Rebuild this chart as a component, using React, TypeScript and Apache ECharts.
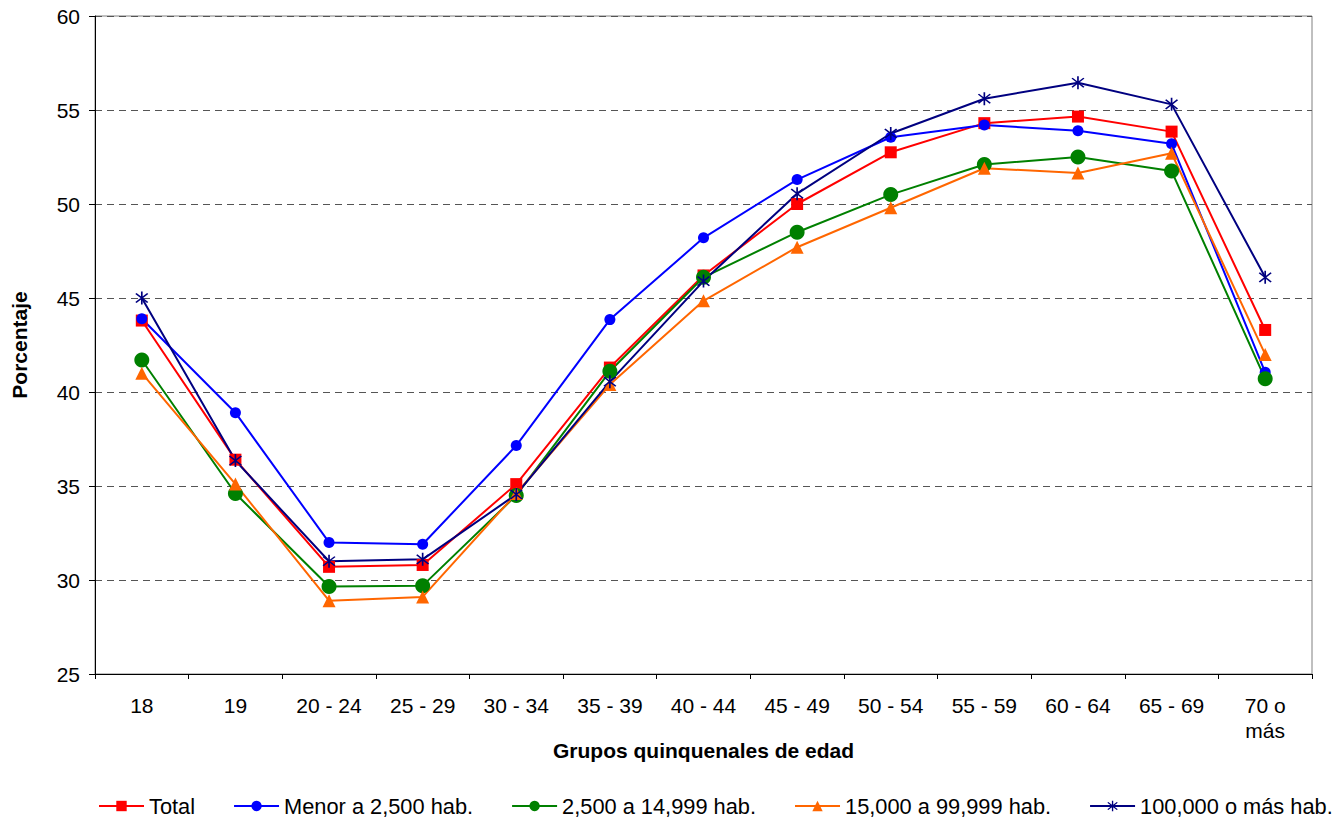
import React, { useEffect, useRef } from "react";
import * as echarts from "echarts";

const categories = ["18", "19", "20 - 24", "25 - 29", "30 - 34", "35 - 39", "40 - 44", "45 - 49", "50 - 54", "55 - 59", "60 - 64", "65 - 69", "70 o\nmás"];

const total = [43.8, 36.4, 30.7, 30.8, 35.1, 41.3, 46.2, 50.0, 52.75, 54.3, 54.65, 53.85, 43.3];
const menor2500 = [43.9, 38.9, 32.0, 31.9, 37.15, 43.85, 48.2, 51.3, 53.55, 54.2, 53.9, 53.2, 41.05];
const de2500a14999 = [41.7, 34.6, 29.65, 29.7, 34.5, 41.1, 46.1, 48.5, 50.5, 52.1, 52.5, 51.75, 40.7];
const de15000a99999 = [41.0, 35.1, 28.9, 29.1, 34.6, 40.4, 44.85, 47.7, 49.8, 51.9, 51.65, 52.7, 42.0];
const de100000 = [45.0, 36.35, 31.0, 31.1, 34.55, 40.55, 45.9, 50.55, 53.75, 55.6, 56.45, 55.3, 46.1];

const seriesNames = ["Total", "Menor a 2,500 hab.", "2,500 a 14,999 hab.", "15,000 a 99,999 hab.", "100,000 o más hab."];

const yMin = 25;
const yMax = 60;
const yInterval = 5;

const FONT = "'Liberation Sans', Arial, sans-serif";
const FS = 21;

const asterisk =
  "path://M-0.9,-9 L0.9,-9 L0.9,9 L-0.9,9 Z " +
  "M-7,-5.7 L-5.7,-7 L7,5.7 L5.7,7 Z " +
  "M5.7,-7 L7,-5.7 L-5.7,7 L-7,5.7 Z";

export default function App() {
  const ref = useRef<HTMLDivElement>(null);
  useEffect(() => {
    if (!ref.current) return;
    const chart = echarts.init(ref.current, null, { renderer: "svg" });
    const mk = (name: string, data: number[], color: string, symbol: string, size: number) => ({
      name,
      type: "line",
      data,
      symbol,
      symbolSize: size,
      lineStyle: { color, width: 2 },
      itemStyle: { color, borderWidth: 0 },
      emphasis: { disabled: true },
      z: 3,
    });
    chart.setOption({
      animation: false,
      textStyle: { fontFamily: FONT },
      grid: {
        left: 95,
        right: 29,
        top: 16,
        bottom: 149,
        show: true,
        borderColor: "#808080",
        borderWidth: 1,
      },
      legend: {
        top: 795,
        left: 98,
        right: 0,
        padding: 0,
        itemWidth: 45,
        itemHeight: 13,
        itemGap: 38,
        textStyle: { fontSize: 21.8, color: "#000", fontFamily: FONT },
        data: seriesNames,
      },
      xAxis: {
        type: "category",
        data: categories,
        boundaryGap: true,
        name: "Grupos quinquenales de edad",
        nameLocation: "middle",
        nameGap: 66,
        nameMoveOverlap: false,
        nameTextStyle: { fontSize: FS, fontWeight: "bold", color: "#000", fontFamily: FONT },
        axisLine: { lineStyle: { color: "#000", width: 1 } },
        axisTick: { show: true, length: 5, lineStyle: { color: "#000" } },
        axisLabel: { fontSize: FS, color: "#000", margin: 19, lineHeight: 25, interval: 0, fontFamily: FONT },
      },
      yAxis: {
        type: "value",
        min: yMin,
        max: yMax,
        interval: yInterval,
        name: "Porcentaje",
        nameLocation: "middle",
        nameGap: 65,
        nameTextStyle: { fontSize: FS, fontWeight: "bold", color: "#000", fontFamily: FONT },
        axisLine: { show: true, lineStyle: { color: "#000", width: 1 } },
        axisTick: { show: true, length: 6, lineStyle: { color: "#000" } },
        axisLabel: { fontSize: FS, color: "#000", margin: 15, fontFamily: FONT },
        splitLine: { show: true, lineStyle: { color: "#555", type: [7, 5], width: 1 } },
      },
      series: [
        mk(seriesNames[0], total, "#FF0000", "rect", 12),
        mk(seriesNames[1], menor2500, "#0000FF", "circle", 11),
        mk(seriesNames[2], de2500a14999, "#008000", "circle", 15),
        mk(seriesNames[3], de15000a99999, "#FF6600", "triangle", 13),
        mk(seriesNames[4], de100000, "#000080", asterisk, 13),
      ],
    });
    return () => chart.dispose();
  }, []);
  return <div ref={ref} style={{ position: "fixed", left: 0, top: 0, width: 1341, height: 823, background: "#fff" }} />;
}
